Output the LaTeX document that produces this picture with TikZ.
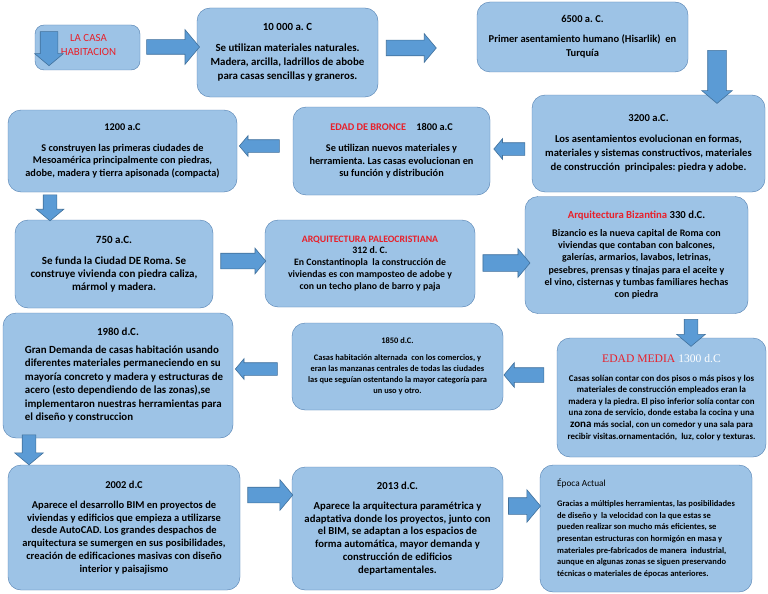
\documentclass[tikz,border=0pt]{standalone}
\usepackage{fontspec}
\setmainfont{Carlito}
\newfontfamily\serifmedia{Liberation Serif}
\usetikzlibrary{shapes.arrows}
\definecolor{boxfill}{RGB}{157,195,230}
\definecolor{boxline}{RGB}{80,126,176}
\definecolor{arrowfill}{RGB}{91,155,213}
\definecolor{arrowline}{RGB}{65,113,156}
\definecolor{casared}{RGB}{232,32,42}
\newcommand{\rojo}[1]{{\color{casared}#1}}
\newcommand{\tam}[2]{\fontsize{#1}{#2}\selectfont}
\frenchspacing
\begin{document}
\begin{tikzpicture}[
  x=1pt, y=-1pt,
  box/.style={draw=boxline, fill=boxfill, rounded corners=13pt, inner sep=0pt, align=center,
    font=\bfseries\tam{10.5}{14}},
  flecha/.style={single arrow, draw=arrowline, fill=arrowfill, line width=0.6pt,
    single arrow tip angle=100}
]
\useasboundingbox[fill=white] (0,0) rectangle (768,594);

% fila 1
\node[box, rounded corners=9pt, minimum width=105pt, minimum height=45pt] (casa) at (87.5,47.5) {};
\node[font=\tam{10.9}{14}, text=casared, align=center] (casatxt) at (88.5,45.5) {LA CASA\\HABITACION};
\node[box, minimum width=181pt, minimum height=89pt, font=\bfseries\tam{10.9}{14}] (c10000) at (287.5,52.5)
  {10 000 a. C\\[7pt] Se utilizan materiales naturales.\\Madera, arcilla, ladrillos de abobe\\para casas sencillas y graneros.};
\node[box, minimum width=211pt, minimum height=70pt] (c6500) at (582.5,37)
  {6500 a. C.\\[6pt] Primer asentamiento humano (Hisarlik)~ en\\Turquía};

% fila 2
\node[box, minimum width=233pt, minimum height=97pt, font=\bfseries\tam{10.6}{14}] (c3200) at (648.5,143.5)
  {3200 a.C.\\[7pt] Los asentamientos evolucionan en formas,\\materiales y sistemas constructivos, materiales\\de construcción~ principales: piedra y adobe.};
\node[box, minimum width=197pt, minimum height=88pt, font=\bfseries\tam{10.3}{12.8}] (c1800) at (391.5,151)
  {\rojo{EDAD DE BRONCE}\quad 1800 a.C\\[8pt] Se utilizan nuevos materiales y\\herramienta. Las casas evolucionan en\\su función y distribución};
\node[box, minimum width=229pt, minimum height=82pt, font=\bfseries\tam{10.3}{12.8}] (c1200) at (122.5,151)
  {1200 a.C\\[8pt] S construyen las primeras ciudades de\\Mesoamérica principalmente con piedras,\\adobe, madera y tierra apisonada (compacta)};

% fila 3
\node[box, minimum width=198pt, minimum height=88pt, font=\bfseries\tam{11}{12.6}] (c750) at (114,264)
  {750 a.C.\\[9pt] Se funda la Ciudad DE Roma. Se\\construye vivienda con piedra caliza,\\mármol y madera.};
\node[box, minimum width=210pt, minimum height=87pt, font=\bfseries\tam{9.8}{11.9}] (c312) at (370,263.5)
  {\rojo{ARQUITECTURA PALEOCRISTIANA}\\312 d. C.\\En Constantinopla~ la construcción de\\viviendas es con mamposteo de adobe y\\con un techo plano de barro y paja};
\node[box, minimum width=223pt, minimum height=117pt, font=\bfseries\tam{10}{12.2}] (c330) at (636.5,255)
  {{\tam{10.7}{12.2}\rojo{Arquitectura Bizantina} 330 d.C.}\\[6pt] Bizancio es la nueva capital de Roma con\\viviendas que contaban con balcones,\\galerías, armarios, lavabos, letrinas,\\pesebres, prensas y tinajas para el aceite y\\el vino, cisternas y tumbas familiares hechas\\con piedra};

% fila 4
\node[box, minimum width=230pt, minimum height=125pt, font=\bfseries\tam{10.9}{13.5}] (c1980) at (118,375.5)
  {\begin{tabular}{@{\hspace{12pt}}l@{}}\multicolumn{1}{@{}c@{}}{1980 d.C.}\\[4pt]
   Gran Demanda de casas habitación usando\\diferentes materiales permaneciendo en su\\mayoría concreto y madera y estructuras de\\acero (esto dependiendo de las zonas),se\\implementaron nuestras herramientas para\\el diseño y construccion\end{tabular}};
\node[box, minimum width=211pt, minimum height=87pt, font=\bfseries\tam{8.4}{11}] (c1850) at (397.5,366.5)
  {1850 d.C.\\[6pt] Casas habitación alternada~ con los comercios, y\\eran las manzanas centrales de todas las ciudades\\las que seguían ostentando la mayor categoría para\\un uso y otro.};
\node[box, minimum width=209pt, minimum height=119pt, font=\bfseries\tam{8.9}{11.6}] (cmedia) at (661.5,397.5)
  {{\mdseries\serifmedia\tam{11.6}{12}\color{casared}EDAD MEDIA \color{white}1300 d.C}\\[7pt]
   Casas solían contar con dos pisos o más pisos y los\\materiales de construcción empleados eran la\\madera y la piedra. El piso inferior solía contar con\\una zona de servicio, donde estaba la cocina y una\\{\tam{11}{11.6}zona} más social, con un comedor y una sala para\\recibir visitas.ornamentación,~ luz, color y texturas.};

% fila 5
\node[box, minimum width=232pt, minimum height=125pt, font=\bfseries\tam{10.5}{12.8}] (c2002) at (124,527.5)
  {2002 d.C\\[7pt] Aparece el desarrollo BIM en proyectos de\\viviendas y edificios que empieza a utilizarse\\desde AutoCAD. Los grandes despachos de\\arquitectura se sumergen en sus posibilidades,\\creación de edificaciones masivas con diseño\\interior y paisajismo};
\node[box, minimum width=211pt, minimum height=123pt, font=\bfseries\tam{10.7}{12.9}] (c2013) at (397.5,528.5)
  {2013 d.C.\\[7pt] Aparece la arquitectura paramétrica y\\adaptativa donde los proyectos, junto con\\el BIM, se adaptan a los espacios de\\forma automática, mayor demanda y\\construcción de edificios\\departamentales.};
\node[box, minimum width=212pt, minimum height=127pt, align=left, font=\bfseries\tam{8.5}{11.7}] (cactual) at (646,528.5)
  {{\mdseries\tam{9.3}{11.7}Época Actual}\\[8pt]
   Gracias a múltiples herramientas, las posibilidades\\de diseño y~ la velocidad con la que estas se\\pueden realizar son mucho más eficientes, se\\presentan estructuras con hormigón en masa y\\materiales pre-fabricados de manera~ industrial,\\aunque en algunas zonas se siguen preservando\\técnicas o materiales de épocas anteriores.};

% flechas
\node[flecha, minimum height=34pt, inner sep=8.5pt, single arrow head extend=5.5pt, shape border rotate=270] (f0) at (49,45) {};
\node[flecha, minimum height=53pt, inner sep=7pt, single arrow head extend=10pt] (f1) at (170,47) {};
\node[flecha, minimum height=50pt, inner sep=7.5pt, single arrow head extend=6.5pt] (f2) at (408,48) {};
\node[flecha, minimum height=53pt, inner sep=9pt, single arrow head extend=6pt, shape border rotate=270] (f3) at (717,73) {};
\node[flecha, minimum height=31pt, inner sep=6pt, single arrow head extend=4pt, shape border rotate=180] (f4) at (512,149) {};
\node[flecha, minimum height=40pt, inner sep=6pt, single arrow head extend=4pt, shape border rotate=180] (f5) at (262,146) {};
\node[flecha, minimum height=26pt, inner sep=6.5pt, single arrow head extend=7pt, shape border rotate=270] (f6) at (50,205) {};
\node[flecha, minimum height=45pt, inner sep=7.5pt, single arrow head extend=5pt] (f7) at (240,261) {};
\node[flecha, minimum height=47pt, inner sep=8pt, single arrow head extend=6pt] (f8) at (503,263) {};
\node[flecha, minimum height=27pt, inner sep=6.5pt, single arrow head extend=7.5pt, shape border rotate=270] (f9) at (691,330) {};
\node[flecha, minimum height=40pt, inner sep=7pt, single arrow head extend=5pt, shape border rotate=180] (f10) at (527,375) {};
\node[flecha, minimum height=42pt, inner sep=6pt, single arrow head extend=4pt, shape border rotate=180] (f11) at (259,369) {};
\node[flecha, minimum height=30pt, inner sep=6.5pt, single arrow head extend=7.5pt, shape border rotate=270] (f12) at (29,447) {};
\node[flecha, minimum height=45pt, inner sep=7.5pt, single arrow head extend=7.5pt] (f13) at (267,495) {};
\node[flecha, minimum height=32pt, inner sep=8pt, single arrow head extend=8pt] (f14) at (521,506) {};
\end{tikzpicture}
\end{document}
